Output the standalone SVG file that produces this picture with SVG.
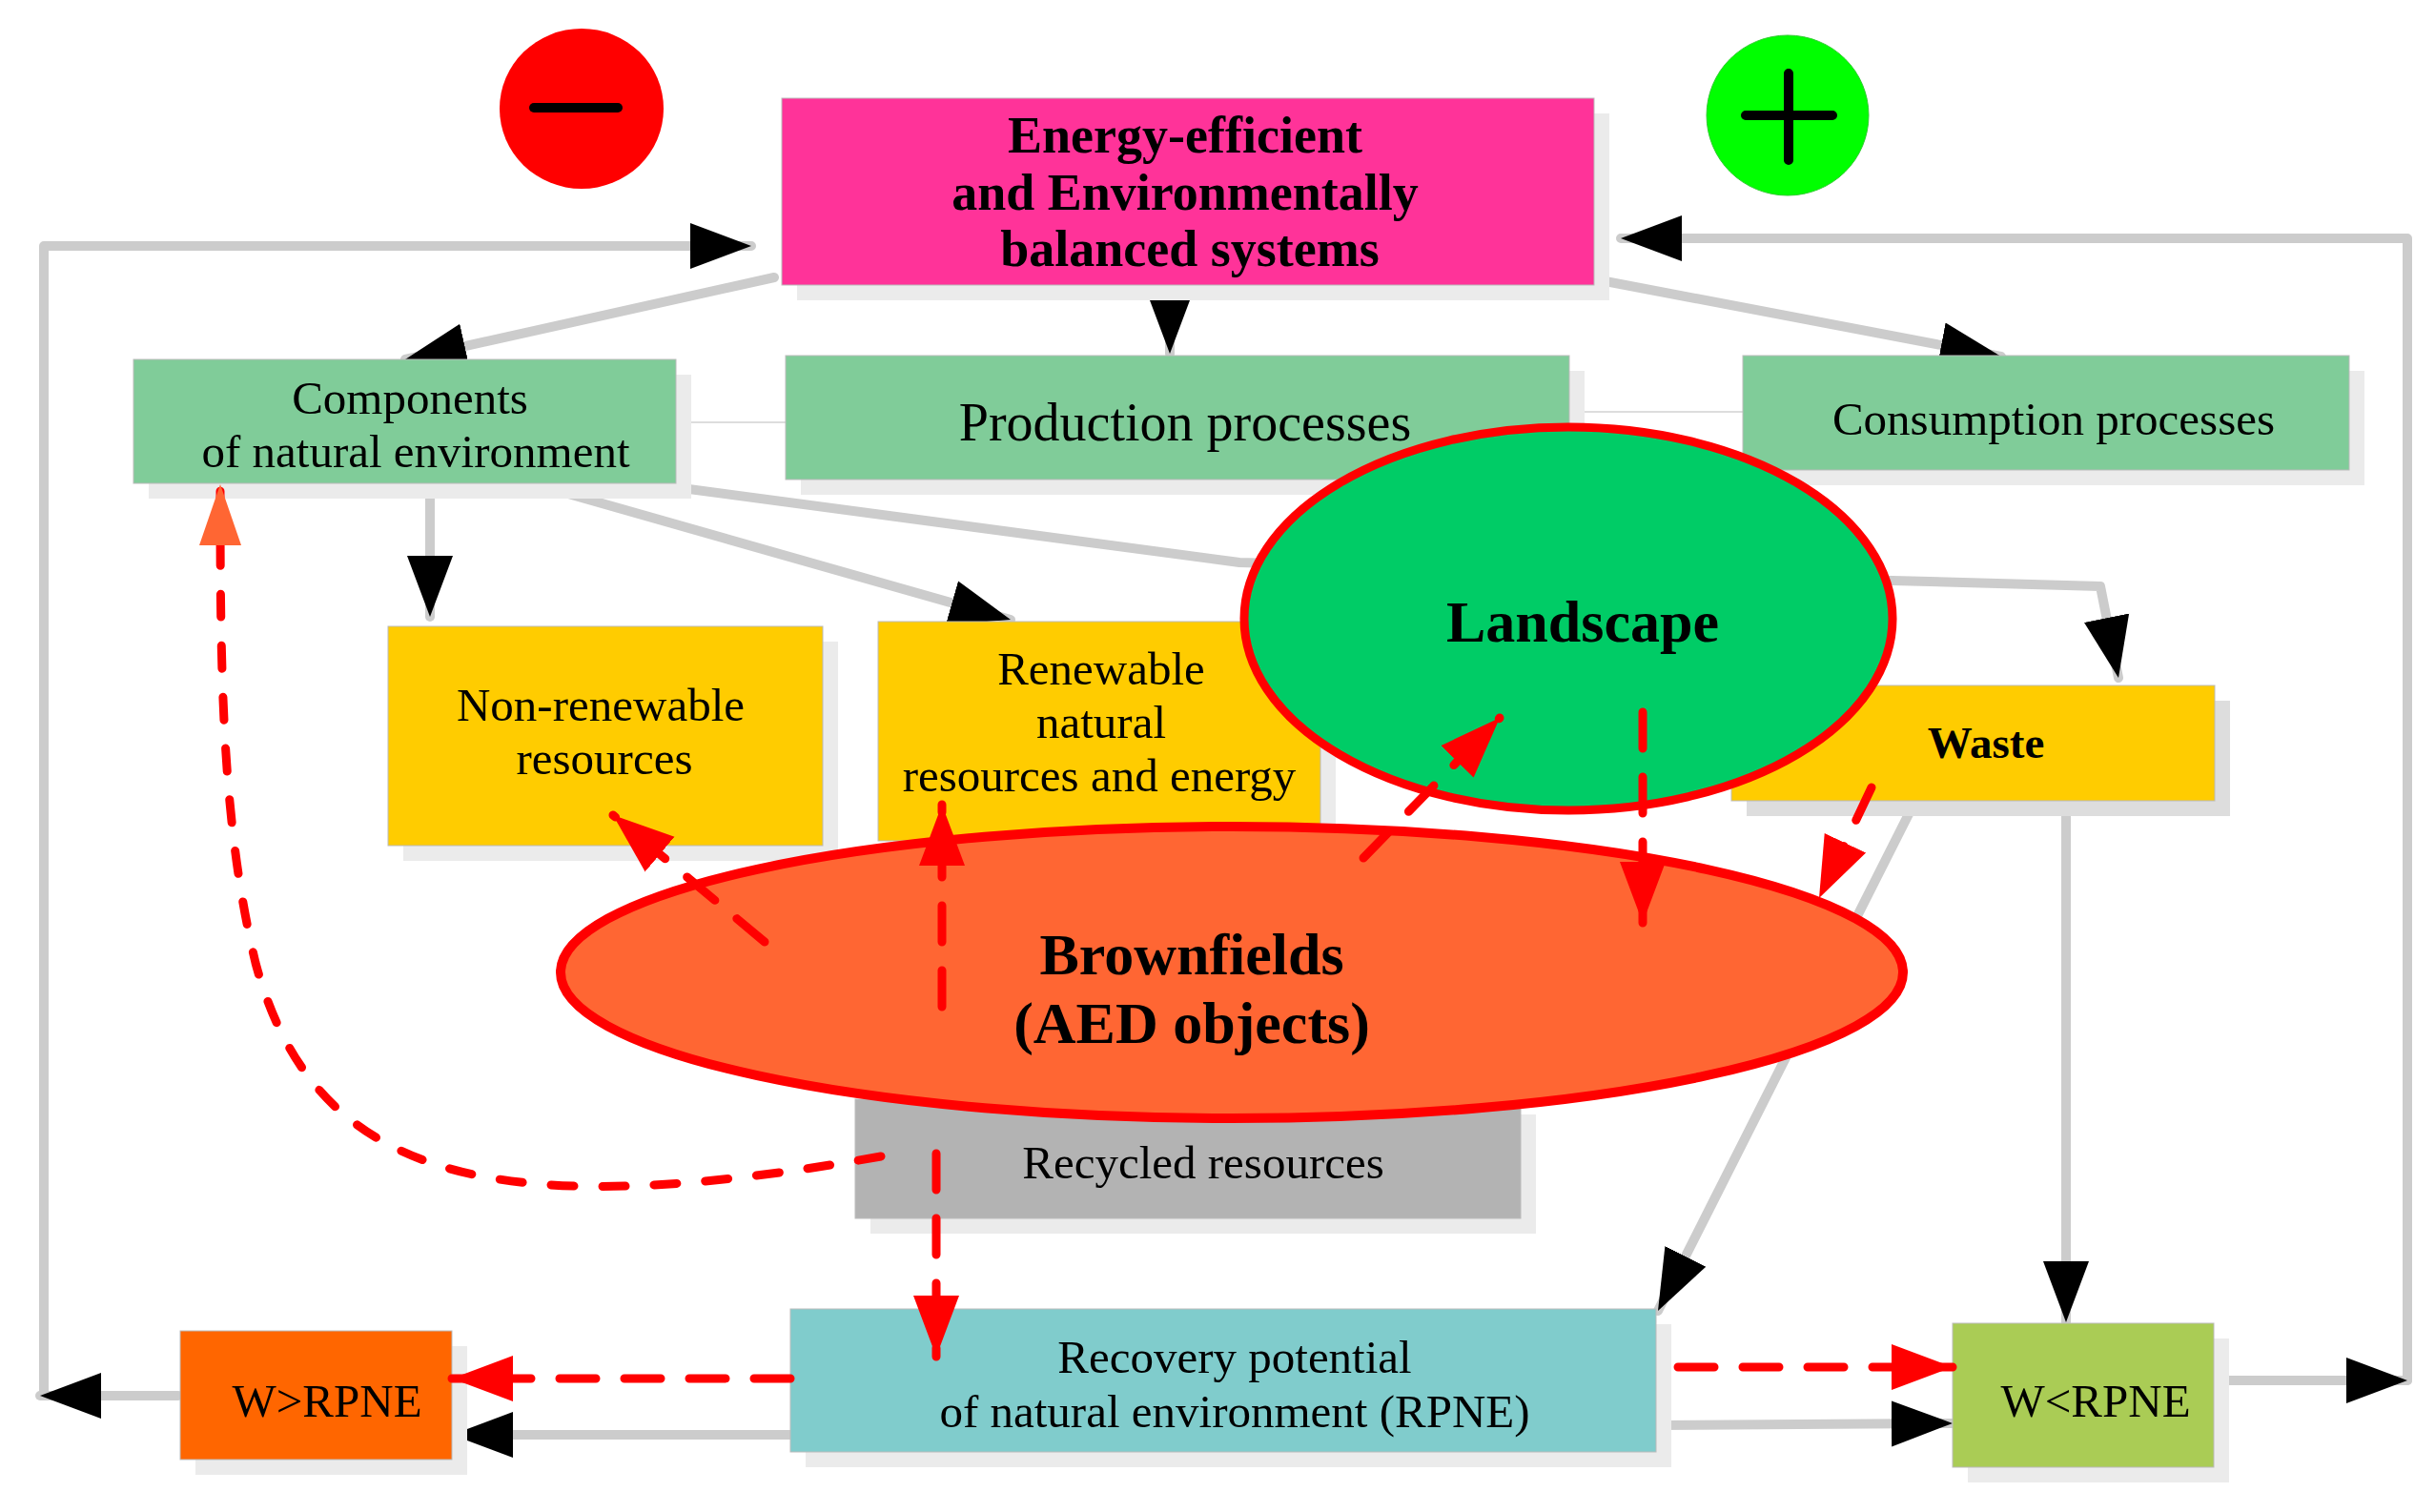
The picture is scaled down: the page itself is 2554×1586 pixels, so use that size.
<svg xmlns="http://www.w3.org/2000/svg" width="2554" height="1586" viewBox="0 0 2554 1586">
<style>
.t{font-family:"Liberation Serif","Times New Roman",serif;fill:#000;text-anchor:middle}
.b{font-weight:bold}
.sh{fill:#ebebeb}
.g{fill:none;stroke:#cccccc;stroke-width:10;stroke-linejoin:round;stroke-linecap:round}
.thin{fill:none;stroke:#dddddd;stroke-width:2}
.r{fill:none;stroke:#ff0000;stroke-width:9;stroke-dasharray:38 30;stroke-linecap:round}
.box{stroke:#bbbbbb;stroke-width:1}
</style>
<defs>
<marker id="ab" markerUnits="userSpaceOnUse" markerWidth="70" markerHeight="60" viewBox="0 0 70 60" refX="64" refY="30" orient="auto"><path d="M0,6 L64,30 L0,54 Z" fill="#000"/></marker>
<marker id="ar" markerUnits="userSpaceOnUse" markerWidth="70" markerHeight="60" viewBox="0 0 70 60" refX="64" refY="30" orient="auto"><path d="M0,6 L64,30 L0,54 Z" fill="#ff0000"/></marker>
<marker id="ao" markerUnits="userSpaceOnUse" markerWidth="70" markerHeight="60" viewBox="0 0 70 60" refX="64" refY="30" orient="auto"><path d="M0,8 L64,30 L0,52 Z" fill="#ff6633"/></marker>
</defs>
<rect width="2554" height="1586" fill="#fff"/>
<g id="connectors">
<path class="thin" d="M709,443 H824 M1646,432 H1828"/>
<path class="g" d="M187,1464 H46 V258 H788" marker-end="url(#ab)"/>
<path class="g" d="M46,1464 H42" marker-end="url(#ab)"/>
<path class="g" d="M2322,1448 H2525 V250 H1700" marker-end="url(#ab)"/>
<path class="g" d="M2400,1448 H2525" marker-end="url(#ab)"/>
<path class="g" d="M812,291 L425,377" marker-end="url(#ab)"/>
<path class="g" d="M1227,299 V371" marker-end="url(#ab)"/>
<path class="g" d="M1668,292 L2099,374" marker-end="url(#ab)"/>
<path class="g" d="M451,507 V647" marker-end="url(#ab)"/>
<path class="g" d="M575,512 L1060,650" marker-end="url(#ab)"/>
<path class="g" d="M700,510 L1300,590 L1985,609 L2203,615 L2222,711" marker-end="url(#ab)"/>
<path class="g" d="M2007,844 L1739,1375" marker-end="url(#ab)"/>
<path class="g" d="M2167,845 V1387" marker-end="url(#ab)"/>
<path class="g" d="M1737,1495 L2048,1493" marker-end="url(#ab)"/>
<path class="g" d="M829,1505 H474" marker-end="url(#ab)"/>
</g>
<g id="minus"><ellipse cx="610" cy="114" rx="86" ry="84" fill="#ff0000"/><path d="M560,113 H648" stroke="#000" stroke-width="10" stroke-linecap="round"/></g>
<g id="plus"><ellipse cx="1875" cy="121" rx="85" ry="84" fill="#00ff00" stroke="#33cc33" stroke-width="1"/><path d="M1831,121 H1922 M1876,77 V168" stroke="#000" stroke-width="10" stroke-linecap="round"/></g>
<g id="energy"><rect class="sh" x="836" y="119" width="852" height="196"/><rect class="box" x="820" y="103" width="852" height="196" fill="#ff3399"/>
<text class="t b" font-size="54" x="1243" y="160">Energy-efficient</text><text class="t b" font-size="54" x="1243" y="220">and Environmentally</text><text class="t b" font-size="54" x="1248" y="279">balanced systems</text></g>
<g id="components"><rect class="sh" x="156" y="393" width="569" height="130"/><rect class="box" x="140" y="377" width="569" height="130" fill="#80cc99"/>
<text class="t" font-size="49" x="430" y="434">Components</text><text class="t" font-size="49" x="436" y="490">of natural environment</text></g>
<g id="production"><rect class="sh" x="840" y="389" width="822" height="130"/><rect class="box" x="824" y="373" width="822" height="130" fill="#80cc99"/>
<text class="t" font-size="56" x="1243" y="462">Production processes</text></g>
<g id="consumption"><rect class="sh" x="1844" y="389" width="636" height="120"/><rect class="box" x="1828" y="373" width="636" height="120" fill="#80cc99"/>
<text class="t" font-size="49" x="2154" y="456">Consumption processes</text></g>
<g id="nonrenewable"><rect class="sh" x="423" y="673" width="456" height="230"/><rect class="box" x="407" y="657" width="456" height="230" fill="#ffcc00"/>
<text class="t" font-size="49" x="630" y="756">Non-renewable</text><text class="t" font-size="49" x="634" y="812">resources</text></g>
<g id="renewable"><rect class="sh" x="937" y="668" width="464" height="230"/><rect class="box" x="921" y="652" width="464" height="230" fill="#ffcc00"/>
<text class="t" font-size="49" x="1155" y="718">Renewable</text><text class="t" font-size="49" x="1155" y="774">natural</text><text class="t" font-size="49" x="1153" y="830">resources and energy</text></g>
<g id="waste"><rect x="1832" y="735" width="507" height="121" fill="#dddddd"/><rect class="box" x="1816" y="719" width="507" height="121" fill="#ffcc00"/>
<text class="t b" font-size="47" x="2083" y="795">Waste</text></g>
<g id="landscape"><ellipse cx="1645" cy="649" rx="340" ry="201" fill="#00cc66" stroke="#ff0000" stroke-width="9"/>
<text class="t b" font-size="62" x="1660" y="673">Landscape</text></g>
<g id="recycled"><rect class="sh" x="913" y="1169" width="698" height="125"/><rect class="box" x="897" y="1153" width="698" height="125" fill="#b3b3b3"/>
<text class="t" font-size="49" x="1262" y="1236">Recycled resources</text></g>
<g id="brownfields"><ellipse cx="1292" cy="1020" rx="704" ry="153" fill="#ff6633" stroke="#ff0000" stroke-width="10"/>
<text class="t b" font-size="62" x="1250" y="1022">Brownfields</text><text class="t b" font-size="62" x="1250" y="1094">(AED objects)</text></g>
<g id="recovery"><rect class="sh" x="845" y="1389" width="908" height="150"/><rect class="box" x="829" y="1373" width="908" height="150" fill="#80cccc"/>
<text class="t" font-size="49" x="1295" y="1440">Recovery potential</text><text class="t" font-size="49" x="1295" y="1497">of natural environment (RPNE)</text></g>
<g id="wgt"><rect class="sh" x="205" y="1412" width="285" height="135"/><rect class="box" x="189" y="1396" width="285" height="135" fill="#ff6600"/>
<text class="t" font-size="49" x="343" y="1486">W&gt;RPNE</text></g>
<g id="wlt"><rect class="sh" x="2064" y="1404" width="274" height="151"/><rect class="box" x="2048" y="1388" width="274" height="151" fill="#aacc55"/>
<text class="t" font-size="49" x="2198" y="1486">W&lt;RPNE</text></g>
<g id="connectors-dashed">
<path class="r" style="stroke-dasharray:24 30" d="M924,1213 C520,1285 330,1240 268,1010 C232,860 231,700 231,508" marker-end="url(#ao)"/>
<path class="r" d="M802,988 L643,855" marker-end="url(#ar)"/>
<path class="r" d="M988,1056 V844" marker-end="url(#ar)"/>
<path class="r" d="M982,1210 V1423" marker-end="url(#ar)"/>
<path class="r" d="M1430,900 L1573,753" marker-end="url(#ar)"/>
<path class="r" d="M1723,747 V968" marker-end="url(#ar)"/>
<path class="r" d="M1963,826 L1908,942" marker-end="url(#ar)"/>
<path class="r" d="M829,1446 H474" marker-end="url(#ar)"/>
<path class="r" d="M1760,1434 H2048" marker-end="url(#ar)"/>
</g>
</svg>
